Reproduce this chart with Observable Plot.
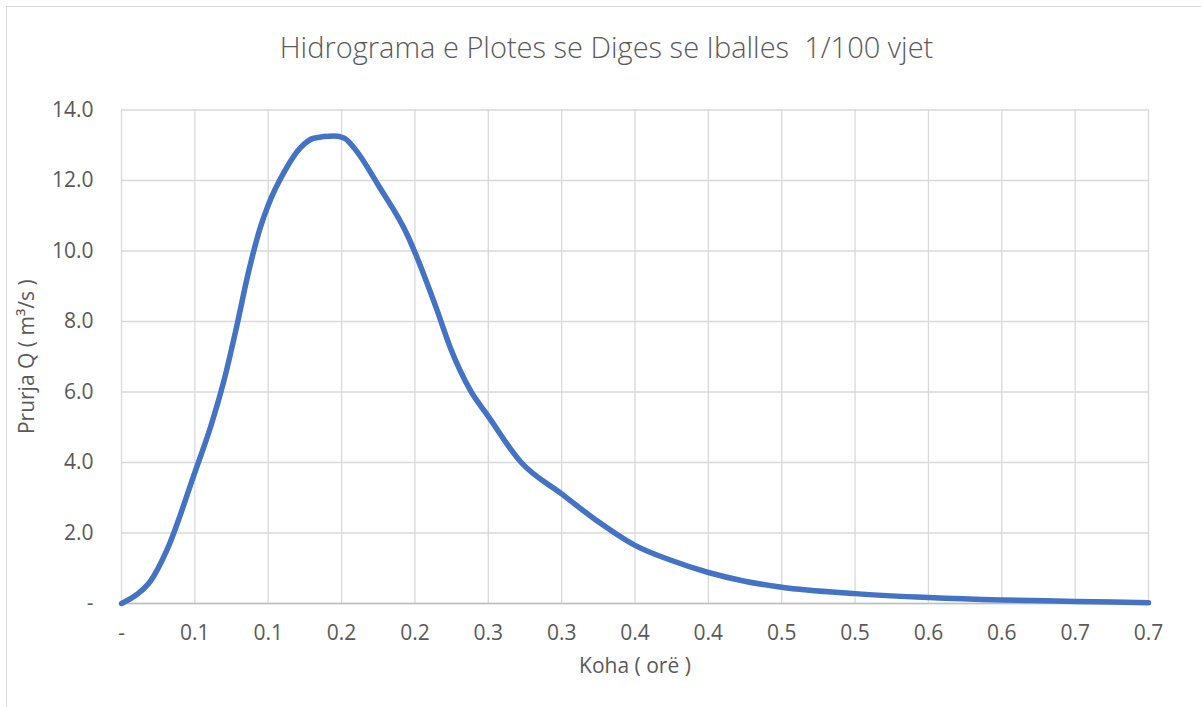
<!DOCTYPE html>
<html>
<head>
<meta charset="utf-8">
<script src="https://cdn.jsdelivr.net/npm/d3@7"></script>
<script src="https://cdn.jsdelivr.net/npm/@observablehq/plot@0.6"></script>
<style>
  html, body { margin: 0; padding: 0; background: #fff; }
  #wrap { position: relative; width: 1201px; height: 707px; overflow: hidden; background: #fff; }
  #frame { position: absolute; left: 6px; top: 6px; width: 1300px; height: 800px; border: 1.5px solid #d9d9d9; box-sizing: border-box; }
  #title { position: absolute; left: 6px; top: 30px; width: 1201px; text-align: center; font-family: "Open Sans", sans-serif; font-weight: 300; font-size: 29px; line-height: 34px; color: #595959; white-space: pre; }
  #chart { position: absolute; left: 0; top: 0; }
</style>
</head>
<body>
<div id="wrap">
  <div id="frame"></div>
  <div id="chart"></div>
  <div id="title">Hidrograma e Plotes se Diges se Iballes  1/100 vjet</div>
</div>
<script>
// Time (hours) and discharge Q (m3/s)
const times = [0, 0.011, 0.02, 0.031, 0.05, 0.061, 0.07, 0.079, 0.086, 0.095, 0.1, 0.111, 0.122, 0.131, 0.145, 0.152, 0.158, 0.176, 0.195, 0.2, 0.215, 0.224, 0.238, 0.25, 0.272, 0.3, 0.324, 0.35, 0.375, 0.4, 0.424, 0.45, 0.5, 0.55, 0.6, 0.65, 0.7];
const flows = [0, 0.27, 0.65, 1.52, 3.72, 5.05, 6.35, 7.95, 9.3, 10.72, 11.3, 12.25, 12.93, 13.2, 13.26, 13.2, 12.95, 11.8, 10.44, 9.96, 8.33, 7.27, 6.03, 5.31, 4.02, 3.11, 2.35, 1.65, 1.22, 0.88, 0.64, 0.46, 0.28, 0.17, 0.10, 0.06, 0.02];

const xTicks = [0, 0.05, 0.1, 0.15, 0.2, 0.25, 0.3, 0.35, 0.4, 0.45, 0.5, 0.55, 0.6, 0.65, 0.7];
const xTickLabels = ["-", "0.1", "0.1", "0.2", "0.2", "0.3", "0.3", "0.4", "0.4", "0.5", "0.5", "0.6", "0.6", "0.7", "0.7"];
const yTicks = [0, 2, 4, 6, 8, 10, 12, 14];
const yTickLabels = ["-", "2.0", "4.0", "6.0", "8.0", "10.0", "12.0", "14.0"];

const xLabel = "Koha ( orë )";
const yLabel = "Prurja Q ( m³/s )";

const data = times.map((t, i) => ({t, q: flows[i]}));
const grid = {stroke: "#d9d9d9", strokeOpacity: 1, strokeWidth: 1.3};

const chart = Plot.plot({
  width: 1201,
  height: 707,
  marginLeft: 121,
  marginRight: 53,
  marginTop: 109.5,
  marginBottom: 104,
  style: {fontFamily: "'Open Sans', sans-serif", fontSize: "21px", color: "#595959", background: "transparent", overflow: "visible"},
  x: {domain: [0, 0.7]},
  y: {domain: [0, 14]},
  marks: [
    Plot.gridX(xTicks, grid),
    Plot.gridY(yTicks, grid),
    Plot.ruleY([0], {stroke: "#bfbfbf", strokeWidth: 1.6}),
    Plot.axisX(xTicks, {tickSize: 0, tickPadding: 22, fontSize: 21, label: null, tickFormat: d => xTickLabels[xTicks.indexOf(d)]}),
    Plot.axisY(yTicks, {tickSize: 0, tickPadding: 28, fontSize: 21, label: null, tickFormat: d => yTickLabels[yTicks.indexOf(d)]}),
    Plot.line(data, {x: "t", y: "q", curve: "monotone-x", stroke: "#4472C4", strokeWidth: 5.5, strokeLinejoin: "round"}),
    Plot.text([xLabel], {frameAnchor: "bottom", dy: 69, fontSize: 21, fill: "#595959"}),
    Plot.text([yLabel], {frameAnchor: "left", dx: -94, rotate: -90, textAnchor: "middle", fontSize: 21, fill: "#595959"})
  ]
});
document.getElementById("chart").appendChild(chart);
</script>
</body>
</html>
